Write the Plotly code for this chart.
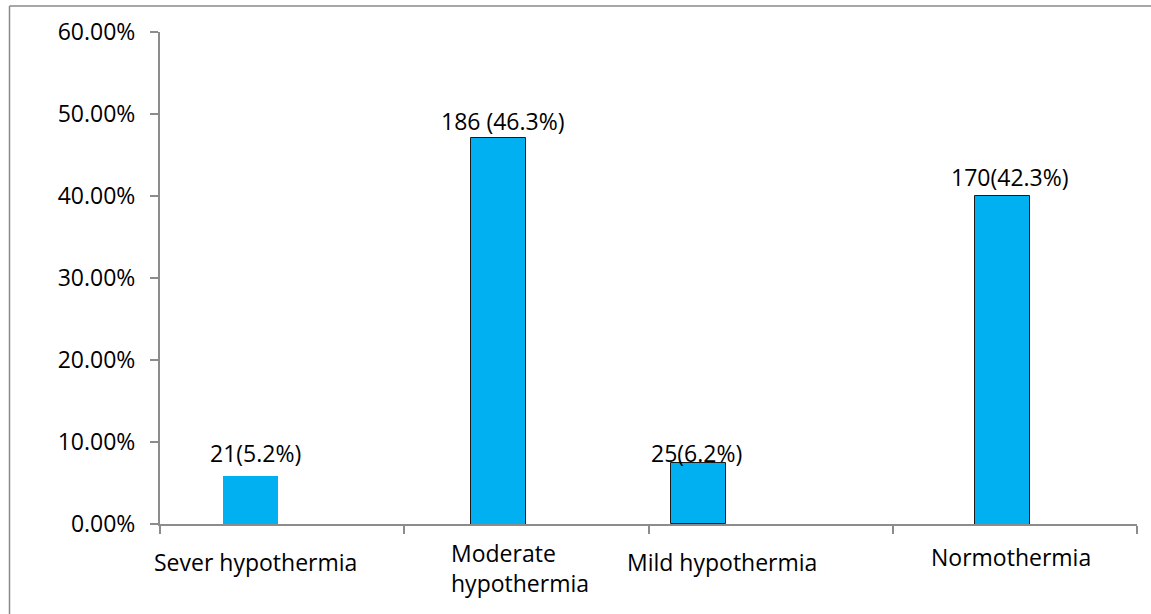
import plotly.graph_objects as go

# ---- data ----
categories = ["Sever hypothermia", "Moderate hypothermia", "Mild hypothermia", "Normothermia"]
category_labels = ["Sever hypothermia", "Moderate<br>hypothermia", "Mild hypothermia", "Normothermia"]
bar_tops = [0.0585, 0.4707, 0.0744, 0.4000]          # bar heights as drawn (fraction)
bar_bases = [-0.0049, -0.0060, 0.0, -0.0037]          # bars dip slightly below the axis
data_labels = ["21(5.2%)", "186 (46.3%)", "25(6.2%)", "170(42.3%)"]
y_ticks = [0, 0.1, 0.2, 0.3, 0.4, 0.5, 0.6]

# ---- styles / positions ----
bar_offsets = [-0.2416, -0.225, -0.409, -0.164]
bar_width = 0.225
outline_colors = ["#00B0F0", "#1a1a1a", "#1a1a1a", "#1a1a1a"]
outline_widths = [0, 1, 1, 1]
label_xshift = [-27, -23, -74, -5]
label_yshift = [23, 17, 10, 19]
cat_xshift = [-27, -77, -49, -4]
cat_yshift = [-38, -44, -38, -33]
cat_align = ["center", "left", "center", "center"]
cat_xanchor = ["center", "left", "center", "center"]

FONT = "Open Sans"
AXIS_COLOR = "#8c8c8c"

fig = go.Figure()
fig.add_trace(go.Bar(
    x=categories,
    y=[t - b for t, b in zip(bar_tops, bar_bases)],
    base=bar_bases,
    width=[bar_width] * len(categories),
    offset=bar_offsets,
    marker=dict(color="#00B0F0", line=dict(color=outline_colors, width=outline_widths)),
    hoverinfo="skip",
    showlegend=False,
    cliponaxis=False,
))

annotations = []
for cat, top, lab, xs, ys in zip(categories, bar_tops, data_labels, label_xshift, label_yshift):
    annotations.append(dict(
        x=cat, y=top, xref="x", yref="y", text=lab, showarrow=False,
        xanchor="center", yanchor="middle", xshift=xs, yshift=ys,
        font=dict(family=FONT, size=23, color="black"),
    ))
for cat, lab, xs, ys, al, xa in zip(categories, category_labels, cat_xshift, cat_yshift, cat_align, cat_xanchor):
    annotations.append(dict(
        x=cat, y=0, xref="x", yref="paper", text=lab, showarrow=False,
        xanchor=xa, yanchor="middle", xshift=xs, yshift=ys, align=al,
        font=dict(family=FONT, size=23, color="black"),
    ))

# outer frame (left and top edges only visible)
L, T = 160, 32
PW, PH = 977, 492
fx = (9.5 - L) / PW
fy = (PH + T - 6) / PH
shapes = [
    dict(type="line", xref="paper", yref="paper", x0=fx, x1=fx, y0=fy, y1=-0.5,
         line=dict(color="#8a8a8a", width=1.5)),
    dict(type="line", xref="paper", yref="paper", x0=fx, x1=1.2, y0=fy, y1=fy,
         line=dict(color="#8a8a8a", width=1.5)),
]

fig.update_layout(
    width=1151, height=614,
    margin=dict(l=L, r=1151 - L - PW, t=T, b=614 - T - PH),
    paper_bgcolor="white", plot_bgcolor="white",
    annotations=annotations, shapes=shapes,
    bargap=0,
    font=dict(family=FONT, size=23, color="black"),
)
fig.update_xaxes(
    type="category", showticklabels=False, showgrid=False, zeroline=False,
    showline=True, linecolor=AXIS_COLOR, linewidth=2,
    ticks="outside", ticklen=8, tickwidth=2, tickcolor=AXIS_COLOR,
    tickson="boundaries", range=[-0.5, 3.5], layer="below traces",
)
fig.update_yaxes(
    range=[0, 0.6], tickvals=y_ticks, tickformat=".2%",
    showgrid=False, zeroline=False,
    showline=True, linecolor=AXIS_COLOR, linewidth=2,
    ticks="outside", ticklen=8, tickwidth=2, tickcolor=AXIS_COLOR,
    tickfont=dict(family=FONT, size=23, color="black"), ticklabelstandoff=10,
    layer="below traces",
)

fig.write_html("out.html", config={"displayModeBar": False},
               post_script="document.body.style.margin='0';")
